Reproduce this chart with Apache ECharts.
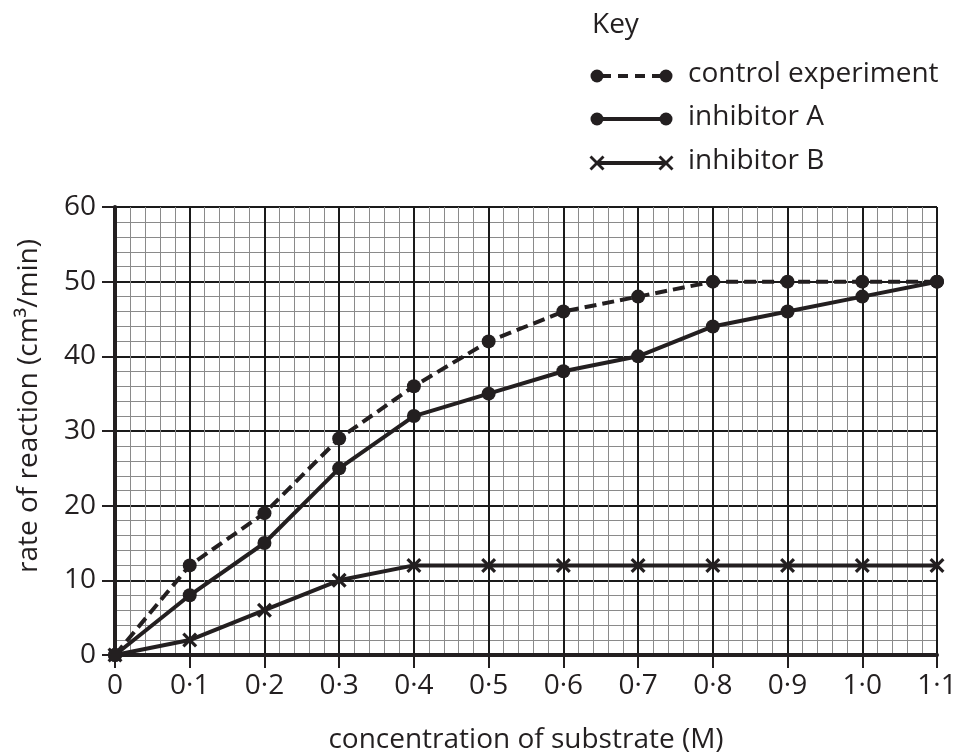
<!DOCTYPE html>
<html>
<head>
<meta charset="utf-8">
<script src="https://cdn.jsdelivr.net/npm/echarts@6/dist/echarts.min.js"></script>
<style>
html,body{margin:0;padding:0;background:#fff;}
#c{width:957px;height:756px;}
</style>
</head>
<body>
<div id="c"></div>
<script>
const concentration = [0, 0.1, 0.2, 0.3, 0.4, 0.5, 0.6, 0.7, 0.8, 0.9, 1.0, 1.1];
const controlRate = [0, 12, 19, 29, 36, 42, 46, 48, 50, 50, 50, 50];
const inhibitorARate = [0, 8, 15, 25, 32, 35, 38, 40, 44, 46, 48, 50];
const inhibitorBRate = [0, 2, 6, 10, 12, 12, 12, 12, 12, 12, 12, 12];
const seriesNames = ['control experiment', 'inhibitor A', 'inhibitor B'];
const keyTitle = 'Key';
const xTitle = 'concentration of substrate (M)';
const yTitle = 'rate of reaction (cm³/min)';

const FONT = '"Open Sans", "DejaVu Sans", sans-serif';
const INK = '#231f20';
const CROSS = 'path://M0,1.5L1.5,0L5,3.5L8.5,0L10,1.5L6.5,5L10,8.5L8.5,10L5,6.5L1.5,10L0,8.5L3.5,5Z';

function pairs(ys){ return concentration.map((x,i)=>[x, ys[i]]); }
function fmtX(v){
  const r = Math.round(v*10)/10;
  if (r === 0) return '0';
  return r.toFixed(1).replace('.', '·');
}

const chart = echarts.init(document.getElementById('c'), null, {renderer:'canvas'});

const lineBase = {
  type:'line', smooth:false, z:5,
  lineStyle:{color:INK, width:4},
  itemStyle:{color:INK},
  emphasis:{disabled:true},
  animation:false
};

// Key graphics
const keyX1 = 597, keyX2 = 666, textX = 688;
const rows = [76, 119, 163];
function dot(x,y){ return {type:'circle', shape:{cx:x, cy:y, r:6.5}, style:{fill:INK}}; }
function cross(x,y){
  return {type:'group', children:[
    {type:'line', shape:{x1:x-6.5,y1:y-6.5,x2:x+6.5,y2:y+6.5}, style:{stroke:INK, lineWidth:2.8}},
    {type:'line', shape:{x1:x-6.5,y1:y+6.5,x2:x+6.5,y2:y-6.5}, style:{stroke:INK, lineWidth:2.8}}
  ]};
}
const graphic = [
  {type:'text', x:592, y:25, style:{text:keyTitle, font:'28px '+FONT, fill:INK, textVerticalAlign:'middle', verticalAlign:'middle'}},
  {type:'line', shape:{x1:keyX1,y1:rows[0],x2:keyX2,y2:rows[0]}, style:{stroke:INK, lineWidth:4, lineDash:[10,7], lineDashOffset:-4}},
  dot(keyX1,rows[0]), dot(keyX2,rows[0]),
  {type:'line', shape:{x1:keyX1,y1:rows[1],x2:keyX2,y2:rows[1]}, style:{stroke:INK, lineWidth:4}},
  dot(keyX1,rows[1]), dot(keyX2,rows[1]),
  {type:'line', shape:{x1:keyX1,y1:rows[2],x2:keyX2,y2:rows[2]}, style:{stroke:INK, lineWidth:4}},
  cross(keyX1,rows[2]), cross(keyX2,rows[2]),
  {type:'text', x:29, y:406, rotation:Math.PI/2,
    style:{text:yTitle, font:'28px '+FONT, fill:INK, align:'center', verticalAlign:'middle', textAlign:'center', textVerticalAlign:'middle'}}
];
seriesNames.forEach((n,i)=>{
  graphic.push({type:'text', x:textX, y:rows[i]-2, style:{text:n, font:'28px '+FONT, fill:INK, verticalAlign:'middle', textVerticalAlign:'middle'}});
});

chart.setOption({
  animation:false,
  backgroundColor:'#fff',
  textStyle:{fontFamily:FONT, color:INK},
  grid:{left:115, right:20, top:207, bottom:101, containLabel:false, outerBoundsMode:'none'},
  xAxis:{
    type:'value', min:0, max:1.1, interval:0.1,
    name:xTitle, nameLocation:'middle', nameGap:71,
    nameTextStyle:{fontSize:28, color:INK, fontFamily:FONT, verticalAlign:'top'},
    axisLine:{show:true, onZero:false, lineStyle:{color:INK, width:4}},
    axisTick:{show:true, length:13, lineStyle:{color:INK, width:2}},
    axisLabel:{fontSize:28, color:INK, margin:17, fontFamily:FONT, formatter:fmtX},
    splitLine:{show:true, lineStyle:{color:'#1a1a1a', width:2}},
    minorTick:{show:false, splitNumber:5},
    minorSplitLine:{show:true, lineStyle:{color:'#8a8a8a', width:1}}
  },
  yAxis:{
    type:'value', min:0, max:60, interval:10,
    axisLine:{show:true, onZero:false, lineStyle:{color:INK, width:4}},
    axisTick:{show:true, length:13, lineStyle:{color:INK, width:2}},
    axisLabel:{fontSize:28, color:INK, margin:19, fontFamily:FONT},
    splitLine:{show:true, lineStyle:{color:'#1a1a1a', width:2}},
    minorTick:{show:false, splitNumber:5},
    minorSplitLine:{show:true, lineStyle:{color:'#8a8a8a', width:1}}
  },
  graphic:graphic,
  series:[
    Object.assign({}, lineBase, {name:seriesNames[2], data:pairs(inhibitorBRate), symbol:CROSS, symbolSize:15}),
    Object.assign({}, lineBase, {name:seriesNames[1], data:pairs(inhibitorARate), symbol:'circle', symbolSize:14}),
    Object.assign({}, lineBase, {name:seriesNames[0], data:pairs(controlRate), symbol:'circle', symbolSize:14,
      lineStyle:{color:INK, width:4, type:[12,6]}})
  ]
});
</script>
</body>
</html>
